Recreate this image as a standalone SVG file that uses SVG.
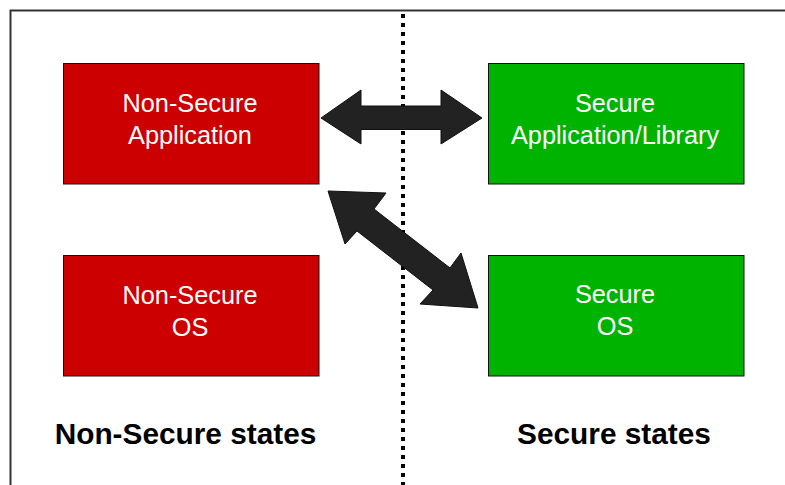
<svg xmlns="http://www.w3.org/2000/svg" width="785" height="485" viewBox="0 0 785 485">
<style>
.box{stroke:#111;stroke-width:1}
.ns{fill:#cc0000}
.s{fill:#00b300}
.t{font-family:"Liberation Sans",Arial,sans-serif;font-size:25.3px;fill:#fff;text-anchor:middle}
.lbl{font-family:"Liberation Sans",Arial,sans-serif;font-size:29.8px;font-weight:bold;fill:#000;text-anchor:middle}
.arrow{fill:#222;stroke:#111;stroke-width:1;stroke-linejoin:miter}
</style>
<rect width="785" height="485" fill="#fff"/>
<g id="frame">
<polyline points="10.5,485 10.5,10.5 785,10.5" fill="none" stroke="#333" stroke-width="2"/>
</g>
<g id="divider">
<line x1="403" y1="14" x2="403" y2="485" stroke="#000" stroke-width="4" stroke-dasharray="4 5"/>
</g>
<g id="ns-app">
<rect class="box ns" x="63.5" y="63.5" width="255.5" height="120.5"/>
<text class="t" x="190" y="112">Non-Secure</text>
<text class="t" x="190" y="143.5">Application</text>
</g>
<g id="ns-os">
<rect class="box ns" x="63.5" y="255.5" width="255.5" height="120.5"/>
<text class="t" x="190" y="304">Non-Secure</text>
<text class="t" x="190" y="335.5">OS</text>
</g>
<g id="s-app">
<rect class="box s" x="488.5" y="63.5" width="255.5" height="120.5"/>
<text class="t" x="615" y="112">Secure</text>
<text class="t" x="615" y="143.5">Application/Library</text>
</g>
<g id="s-os">
<rect class="box s" x="488.5" y="255.5" width="255.5" height="120.5"/>
<text class="t" x="615" y="302.5">Secure</text>
<text class="t" x="615" y="334.5">OS</text>
</g>
<g id="connectors">
<polygon class="arrow" points="321,118 361,90 361,106 441,106 441,90 482,118 441,144 441,129.5 361,129.5 361,144"/>
<polygon class="arrow" points="328,191 386,193 374,209 450,268 461,253 478,308 420,304 433,290 357,231 345,244"/>
</g>
<g id="labels">
<text class="lbl" x="185.5" y="444">Non-Secure states</text>
<text class="lbl" x="614" y="444">Secure states</text>
</g>
</svg>
